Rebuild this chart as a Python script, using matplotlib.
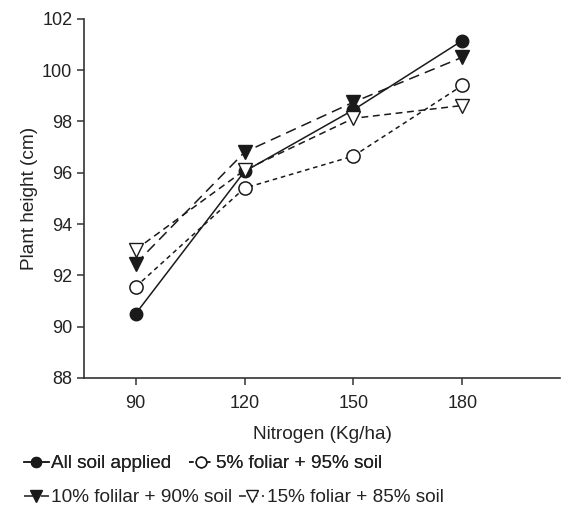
import numpy as np
import matplotlib.pyplot as plt

plt.rcParams['font.family'] = ['Liberation Sans', 'DejaVu Sans']

nitrogen = [90, 120, 150, 180]
all_soil = [90.5, 96.05, 98.45, 101.15]
foliar5 = [91.55, 95.4, 96.65, 99.4]
folilar10 = [92.45, 96.8, 98.75, 100.5]
foliar15 = [93.0, 96.1, 98.12, 98.62]

labels = ['All soil applied', '5% foliar + 95% soil',
          '10% folilar + 90% soil', '15% foliar + 85% soil']

fig = plt.figure(figsize=(5.8, 5.08), dpi=100)
ax = fig.add_axes([0.145, 0.256, 0.821, 0.707])

c = '#1a1a1a'
l1, = ax.plot(nitrogen, all_soil, '-', color=c, lw=1.1, marker='o', ms=9,
              mfc=c, mec=c, label=labels[0])
l2, = ax.plot(nitrogen, foliar5, color=c, lw=1.1, ls=(0, (3, 2.5)), marker='o', ms=9.5,
              mfc='white', mec=c, mew=1.1, label=labels[1])
l3, = ax.plot(nitrogen, folilar10, color=c, lw=1.1, ls=(0, (7, 4)), marker='v', ms=10.5,
              mfc=c, mec=c, label=labels[2])
l4, = ax.plot(nitrogen, foliar15, color=c, lw=1.1, ls=(0, (4.5, 3)), marker='v', ms=10,
              mfc='white', mec=c, mew=1.0, label=labels[3])

ax.set_xlim(75.8, 207)
ax.set_ylim(88, 102)
ax.set_xticks(nitrogen)
ax.set_yticks(np.arange(88, 103, 2))
ax.spines['top'].set_visible(False)
ax.spines['right'].set_visible(False)
for s in ['left', 'bottom']:
    ax.spines[s].set_color('#333333')
    ax.spines[s].set_linewidth(1.2)
ax.tick_params(direction='out', length=5, width=1.1, color='#333333',
               labelsize=13, labelcolor='#222222')
ax.tick_params(axis='x', pad=7)
ax.set_xlabel('Nitrogen (Kg/ha)', fontsize=13.7, color='#222222', labelpad=10)
ax.set_ylabel('Plant height (cm)', fontsize=13.7, color='#222222', labelpad=3)

# two legend rows, each laid out on its own like the original
leg_kw = dict(loc='center left', ncol=2, frameon=False, fontsize=13.7,
              handlelength=1.3, handletextpad=0.15, columnspacing=0.9,
              markerscale=0.8, labelcolor='#222222', borderaxespad=0)
leg1 = fig.legend(handles=[l1, l2], bbox_to_anchor=(0.028, 0.087), **leg_kw)
fig.add_artist(leg1)
fig.legend(handles=[l3, l4], bbox_to_anchor=(0.028, 0.02),
           **dict(leg_kw, columnspacing=0.35))

fig.savefig('out.png', dpi=100)
